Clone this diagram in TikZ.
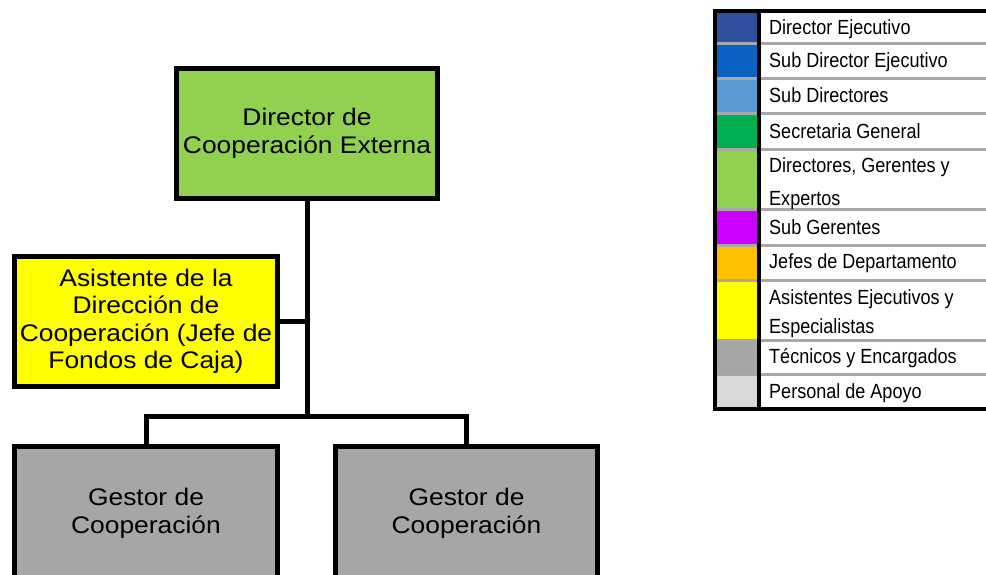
\documentclass[tikz,border=0pt]{standalone}
\usepackage{fontspec}
\setmainfont{Liberation Sans}
\newfontfamily\boxfont[FakeStretch=1.1]{Liberation Sans}
\newfontfamily\legfont[FakeStretch=0.88]{Liberation Sans}
\definecolor{cdirej}{HTML}{2F4F9D}
\definecolor{csubdirej}{HTML}{0A63C2}
\definecolor{csubdir}{HTML}{5B9BD5}
\definecolor{csecgen}{HTML}{00B050}
\definecolor{cdirect}{HTML}{92D050}
\definecolor{csubger}{HTML}{CC00FF}
\definecolor{cjefes}{HTML}{FFC000}
\definecolor{casist}{HTML}{FFFF00}
\definecolor{ctec}{HTML}{A6A6A6}
\definecolor{capoyo}{HTML}{D9D9D9}
\definecolor{csep}{HTML}{A8A8A8}
\begin{document}
\begin{tikzpicture}[x=1pt,y=-1pt,
  orgbox/.style={draw=black, line width=5pt, align=center, inner sep=0pt,
    font=\boxfont\fontsize{24}{27.5}\selectfont},
  conn/.style={draw=black, line width=5pt},
  legtxt/.style={anchor=base west, inner sep=0pt, font=\legfont\fontsize{20.5}{22}\selectfont}]
\useasboundingbox (0,0) rectangle (986,575);
\clip (0,0) rectangle (986,575);
\fill[white] (0,0) rectangle (986,575);

% ---- org chart ----
\coordinate (j) at (307,416);
\node[orgbox, fill=cdirect, minimum width=261pt, minimum height=130pt] (dir) at (307,133.5) {Director de\\Cooperación Externa};
\node[orgbox, fill=casist, minimum width=263pt, minimum height=130pt] (asst) at (146,321.5) {Asistente de la\\Dirección de\\Cooperación (Jefe de\\Fondos de Caja)};
\node[orgbox, fill=ctec, minimum width=263pt, minimum height=134pt] (g1) at (146,513.5) {Gestor de\\Cooperación};
\node[orgbox, fill=ctec, minimum width=262pt, minimum height=134pt] (g2) at (466.5,513.5) {Gestor de\\Cooperación};
\draw[conn] (dir.south) -- (j);
\draw[conn] (asst.east) -- (asst.east -| dir.south);
\draw[conn] (g1.north) |- (j) -| (g2.north);

% ---- legend ----
\fill[cdirej]    (715,11)  rectangle (759,44);
\fill[csubdirej] (715,44)  rectangle (759,79);
\fill[csubdir]   (715,79)  rectangle (759,114);
\fill[csecgen]   (715,114) rectangle (759,150);
\fill[cdirect]   (715,150) rectangle (759,210);
\fill[csubger]   (715,210) rectangle (759,245);
\fill[cjefes]    (715,245) rectangle (759,280);
\fill[casist]    (715,280) rectangle (759,340);
\fill[ctec]      (715,340) rectangle (759,374);
\fill[capoyo]    (715,374) rectangle (759,409);
\foreach \yy in {44,79,114,150,210,245,280,340,374}
  \draw[csep, line width=3pt] (715,\yy) -- (1000,\yy);
\draw[black, line width=4pt] (759,11) -- (759,409);
\draw[black, line width=4pt] (715,11) rectangle (1000,409);

\node[legtxt] (t0) at (769,34.5) {Director Ejecutivo};
\node[legtxt] (t1) at (769,68) {Sub Director Ejecutivo};
\node[legtxt] (t2) at (769,103) {Sub Directores};
\node[legtxt] (t3) at (769,138.5) {Secretaria General};
\node[legtxt] (t4a) at (769,173) {Directores, Gerentes y};
\node[legtxt] (t4b) at (769,205) {Expertos};
\node[legtxt] (t5) at (769,234) {Sub Gerentes};
\node[legtxt] (t6) at (769,269) {Jefes de Departamento};
\node[legtxt] (t7a) at (769,304) {Asistentes Ejecutivos y};
\node[legtxt] (t7b) at (769,333) {Especialistas};
\node[legtxt] (t8) at (769,363.5) {Técnicos y Encargados};
\node[legtxt] (t9) at (769,398) {Personal de Apoyo};
\end{tikzpicture}
\end{document}
